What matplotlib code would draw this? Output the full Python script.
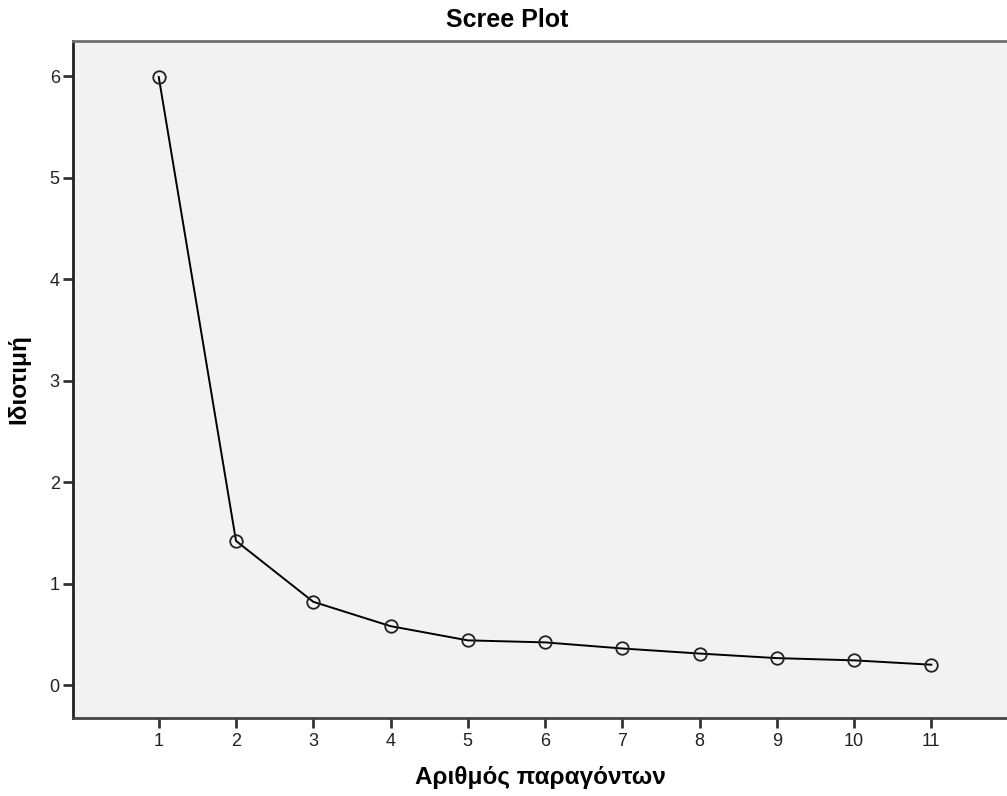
import matplotlib
matplotlib.use("Agg")
import matplotlib.pyplot as plt

# Scree plot values
factors = [1, 2, 3, 4, 5, 6, 7, 8, 9, 10, 11]
eigenvalues = [5.99, 1.42, 0.82, 0.58, 0.44, 0.42, 0.36, 0.31, 0.265, 0.243, 0.20]
y_ticks = [0, 1, 2, 3, 4, 5, 6]

title = "Scree Plot"
x_label = "Αριθμός παραγόντων"
y_label = "Ιδιοτιμή"

plt.rcParams['font.family'] = ['Liberation Sans', 'DejaVu Sans']

fig = plt.figure(figsize=(10.07, 7.96), dpi=100)
ax = fig.add_axes([73 / 1007, 78 / 796, 934 / 1007, 677 / 796])
ax.set_facecolor('#f2f2f2')

ax.plot(factors, eigenvalues, color='black', linewidth=1.4,
        marker='o', markersize=9, markerfacecolor='none',
        markeredgecolor='#222222', markeredgewidth=1.3)

ax.set_xlim(-0.11, 11.98)
ax.set_ylim(-0.325, 6.345)
ax.set_xticks(factors)
ax.set_yticks(y_ticks)
ax.tick_params(axis='both', direction='out', length=7.5, width=2,
               color='#333333', labelsize=13, labelcolor='#222222', pad=2)
ax.tick_params(axis='x', pad=3)

ax.spines['right'].set_visible(False)
ax.spines['top'].set_color('#707070')
ax.spines['top'].set_linewidth(2)
ax.spines['left'].set_color('#222222')
ax.spines['left'].set_linewidth(2)
ax.spines['bottom'].set_color('#444444')
ax.spines['bottom'].set_linewidth(2)

fig.text(507 / 1007, 1 - 20 / 796, title, ha='center', va='center',
         fontsize=18, fontweight='bold')
ax.set_xlabel(x_label, fontsize=17.5, fontweight='bold', labelpad=12)
ax.set_ylabel(y_label, fontsize=17.5, fontweight='bold', labelpad=14)

fig.savefig('out.png', dpi=100)
